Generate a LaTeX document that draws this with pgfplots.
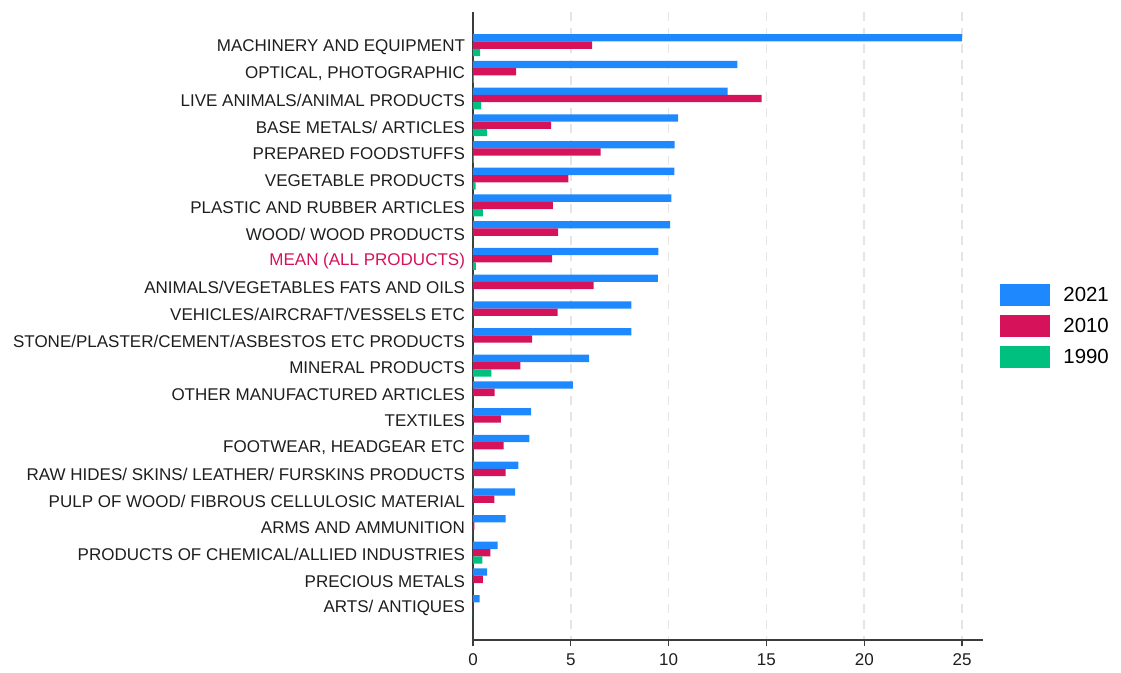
\documentclass[border=0pt]{standalone}
\usepackage{pgfplots}
\pgfplotsset{compat=1.18}
\usepackage{fontspec}
\setmainfont{Liberation Sans}
\definecolor{cA}{RGB}{30,136,255}
\definecolor{cB}{RGB}{213,18,90}
\definecolor{cC}{RGB}{0,192,127}
\definecolor{txt}{RGB}{30,30,30}
\definecolor{axc}{RGB}{60,60,60}
\begin{document}
\begin{tikzpicture}
\begin{axis}[
  scale only axis,
  width=382.5pt, height=471pt,
  xbar, bar width=0.273,
  y dir=reverse,
  xmin=0, xmax=26.07,
  ymin=-1.24, ymax=22.27,
  axis x line*=bottom, axis y line*=left,
  axis line style={axc, line width=1.1pt},
  xtick={0,5,10,15,20,25},
  ytick={0,...,21},
  yticklabels={MACHINERY AND EQUIPMENT, {OPTICAL, PHOTOGRAPHIC}, LIVE ANIMALS/ANIMAL PRODUCTS, BASE METALS/ ARTICLES, PREPARED FOODSTUFFS, VEGETABLE PRODUCTS, PLASTIC AND RUBBER ARTICLES, WOOD/ WOOD PRODUCTS, {\color{cB}MEAN (ALL PRODUCTS)}, ANIMALS/VEGETABLES FATS AND OILS, VEHICLES/AIRCRAFT/VESSELS ETC, STONE/PLASTER/CEMENT/ASBESTOS ETC PRODUCTS, MINERAL PRODUCTS, OTHER MANUFACTURED ARTICLES, TEXTILES, {FOOTWEAR, HEADGEAR ETC}, RAW HIDES/ SKINS/ LEATHER/ FURSKINS PRODUCTS, PULP OF WOOD/ FIBROUS CELLULOSIC MATERIAL, ARMS AND AMMUNITION, PRODUCTS OF CHEMICAL/ALLIED INDUSTRIES, PRECIOUS METALS, ARTS/ ANTIQUES},
  ticklabel style={font=\fontsize{12.75}{15}\selectfont, text=txt},
  /pgf/number format/assume math mode=true,
  ytick style={draw=none},
  xtick style={axc, line width=0.9pt},
  tick align=outside,
  major tick length=4.5pt,
  xmajorgrids,
  major grid style={draw=black!10, line width=1.2pt, dash pattern=on 7pt off 5pt},
  yticklabel style={xshift=2pt, yshift=-1.5pt},
  xticklabel style={yshift=-2.5pt},
  legend style={at={(1.033,0.5)}, anchor=west, draw=none, fill=none, inner sep=0pt,
    font=\fontsize{15.3}{18}\selectfont, row sep=6.75pt, cells={anchor=west}},
  legend image code/.code={\path[#1, draw=none] (0pt,-8.25pt) rectangle (37.5pt,8.25pt); \path (45.5pt,0pt);},
]
\addplot[fill=cA, draw=none, bar shift=-0.273] coordinates {
(25.0,0) (13.51,1) (13.02,2) (10.48,3) (10.31,4) (10.29,5) (10.14,6) (10.08,7) (9.47,8) (9.45,9) (8.1,10) (8.09,11) (5.94,12) (5.1,13) (2.97,14) (2.88,15) (2.32,16) (2.15,17) (1.67,18) (1.26,19) (0.72,20) (0.34,21)};
\addplot[fill=cB, draw=none, bar shift=0] coordinates {
(6.09,0) (2.2,1) (14.76,2) (3.99,3) (6.52,4) (4.88,5) (4.08,6) (4.35,7) (4.04,8) (6.16,9) (4.32,10) (3.02,11) (2.42,12) (1.11,13) (1.43,14) (1.57,15) (1.67,16) (1.09,17) (0.07,18) (0.89,19) (0.51,20) (0,21)};
\addplot[fill=cC, draw=none, bar shift=0.273] coordinates {
(0.36,0) (0.05,1) (0.41,2) (0.72,3) (0.04,4) (0.14,5) (0.5,6) (0,7) (0.15,8) (0,9) (0,10) (0,11) (0.94,12) (0,13) (0,14) (0,15) (0,16) (0,17) (0,18) (0.48,19) (0,20) (0,21)};
\legend{2021,2010,1990}
\end{axis}
\useasboundingbox (current axis.south west) ++(-354.75pt,-24pt) rectangle ++(840.75pt,504pt);
\end{tikzpicture}
\end{document}
